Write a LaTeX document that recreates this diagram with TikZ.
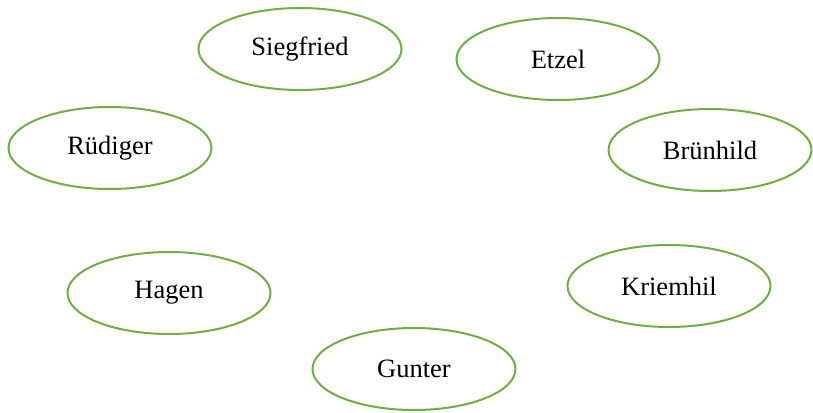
\documentclass[tikz,border=0pt]{standalone}
\usepackage{fontspec}
\setmainfont{Liberation Serif}
\usetikzlibrary{shapes.geometric}
\definecolor{ovalgreen}{HTML}{70AD47}
\begin{document}
\begin{tikzpicture}[x=1pt,y=-1pt,
  person/.style={ellipse,draw=ovalgreen,line width=2pt,minimum width=203pt,minimum height=82pt,inner sep=0pt,font=\fontsize{26.5}{30}\selectfont,text=black}]
\useasboundingbox (0,0) rectangle (813,412);
\node[person] (siegfried) at (300,49) {Siegfried};
\node[person] (etzel) at (558,59) {Etzel};
\node[person] (ruediger) at (110,148) {Rüdiger};
\node[person] (bruenhild) at (710,150) {Brünhild};
\node[person] (hagen) at (169,293) {Hagen};
\node[person] (kriemhil) at (669,286) {Kriemhil};
\node[person] (gunter) at (414,369) {Gunter};
\end{tikzpicture}
\end{document}
